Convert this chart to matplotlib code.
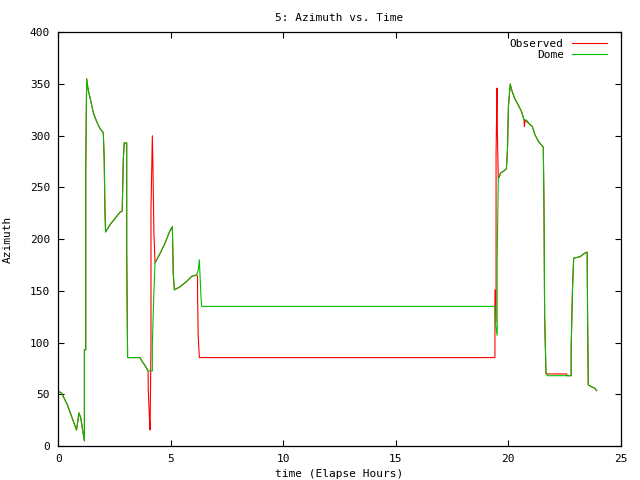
import matplotlib
matplotlib.use('Agg')
import matplotlib.pyplot as plt

# dome azimuth (green)
dome_t = [0.00, 0.15, 0.40, 0.81, 0.92, 1.00, 1.07, 1.16, 1.16, 1.22, 1.22, 1.26,
          1.33, 1.43, 1.56, 1.70, 1.85, 2.00, 2.04, 2.07, 2.10, 2.30, 2.52, 2.74,
          2.84, 2.89, 2.93, 3.04, 3.04, 3.08, 3.63, 3.73, 3.85, 3.93, 4.00, 4.18,
          4.18, 4.25, 4.30, 4.52, 4.74, 4.96, 5.07, 5.11, 5.16, 5.41, 5.70, 5.93,
          6.15, 6.22, 6.27, 6.30, 6.34, 6.37, 19.41, 19.45, 19.51, 19.51, 19.56,
          19.60, 19.66, 19.78, 19.92, 19.97, 20.01, 20.09, 20.15, 20.29, 20.44,
          20.59, 20.70, 20.82, 20.96, 21.07, 21.19, 21.34, 21.48, 21.56, 21.59,
          21.62, 21.68, 21.74, 22.80, 22.80, 22.86, 22.91, 23.19, 23.41, 23.51,
          23.53, 23.56, 23.70, 23.85, 23.93]
dome_az = [53, 51, 40, 15.5, 32, 27, 17, 5, 93, 93, 267, 355,
           344, 335, 322, 314, 307, 303, 278, 232, 207, 214, 220, 226,
           227, 277, 293, 293, 190, 85.5, 85.5, 81.6, 78, 75, 72.6, 72.6,
           98, 149, 177, 186, 196, 208, 212, 167, 151, 154, 159, 164,
           165.5, 170, 180, 165, 146, 135, 135, 115, 107, 182, 259,
           260, 264, 265.5, 268, 288, 328, 350, 344.5, 336, 330,
           323.5, 315.5, 315, 311, 309, 301, 294.5, 291, 289, 235,
           125, 70, 68, 68, 96, 152.6, 181.6, 183, 186.5, 187.4,
           123.5, 59, 57.4, 55.8, 53.5]

# observed azimuth (red)
obs_t = [0.00, 0.15, 0.40, 0.81, 0.92, 1.00, 1.07, 1.16, 1.16, 1.22, 1.22, 1.26,
         1.33, 1.43, 1.56, 1.70, 1.85, 2.00, 2.04, 2.07, 2.10, 2.30, 2.52, 2.74,
         2.84, 2.89, 2.93, 3.04, 3.04, 3.08, 3.63, 3.73, 3.85, 3.93, 3.99, 4.00,
         4.05, 4.08, 4.12, 4.12, 4.18, 4.21, 4.25, 4.30, 4.52, 4.74, 4.96, 5.07,
         5.11, 5.16, 5.41, 5.70, 5.93, 6.15, 6.19, 6.19, 6.22, 6.27, 19.41, 19.41,
         19.46, 19.46, 19.50, 19.52, 19.56, 19.60, 19.66, 19.78, 19.92, 19.97,
         20.01, 20.09, 20.15, 20.29, 20.44, 20.59, 20.70, 20.72, 20.75, 20.96,
         21.07, 21.19, 21.34, 21.48, 21.56, 21.59, 21.62, 21.68, 21.74, 22.60,
         22.62, 22.80, 22.80, 22.86, 22.91, 23.19, 23.41, 23.51, 23.53, 23.56,
         23.70, 23.85, 23.93]
obs_az = [53, 51, 40, 15.5, 32, 27, 17, 5, 93, 93, 267, 355,
          344, 335, 322, 314, 307, 303, 278, 232, 207, 214, 220, 226,
          227, 277, 293, 293, 190, 85.5, 85.5, 81.6, 78, 75, 72.6, 53,
          28, 15.5, 98, 228, 300, 267, 206, 177, 186, 196, 208, 212,
          167, 151, 154, 159, 164, 165.5, 164, 146, 106, 85.5, 85.5, 151,
          120, 281, 346, 302, 259, 260, 264, 265.5, 268, 288,
          328, 350, 344.5, 336, 330, 323.5, 315.5, 309, 315, 311,
          309, 301, 294.5, 291, 289, 235, 125, 70, 69.7, 69.7,
          68, 68, 96, 152.6, 181.6, 183, 186.5, 187.4, 123.5, 59,
          57.4, 55.8, 53.5]

xticks = [0, 5, 10, 15, 20, 25]
yticks = [0, 50, 100, 150, 200, 250, 300, 350, 400]

plt.rcParams['font.family'] = ['DejaVu Sans Mono']
plt.rcParams['font.size'] = 8

fig = plt.figure(figsize=(6.4, 4.8), dpi=100)
ax = fig.add_axes([0.0911, 0.0708, 0.8787, 0.8619])

ax.plot(obs_t, obs_az, color='#ff0000', lw=0.8, label='Observed')
ax.plot(dome_t, dome_az, color='#00c000', lw=0.8, label='Dome')

ax.set_xlim(0, 25)
ax.set_ylim(0, 400)
ax.set_xticks(xticks)
ax.set_yticks(yticks)
ax.tick_params(direction='in', length=4, width=0.8, top=True, right=True, pad=6)
for s in ax.spines.values():
    s.set_linewidth(0.9)

ax.set_title('5: Azimuth vs. Time', fontsize=8, pad=8)
ax.set_xlabel('time (Elapse Hours)', labelpad=3)
ax.set_ylabel('Azimuth', labelpad=12)

ax.legend(loc='upper right', bbox_to_anchor=(0.976, 0.985), frameon=False,
          markerfirst=False, handlelength=3.2, borderaxespad=0, borderpad=0,
          labelspacing=0.15, handletextpad=0.7)

fig.savefig('out.png', dpi=100)
